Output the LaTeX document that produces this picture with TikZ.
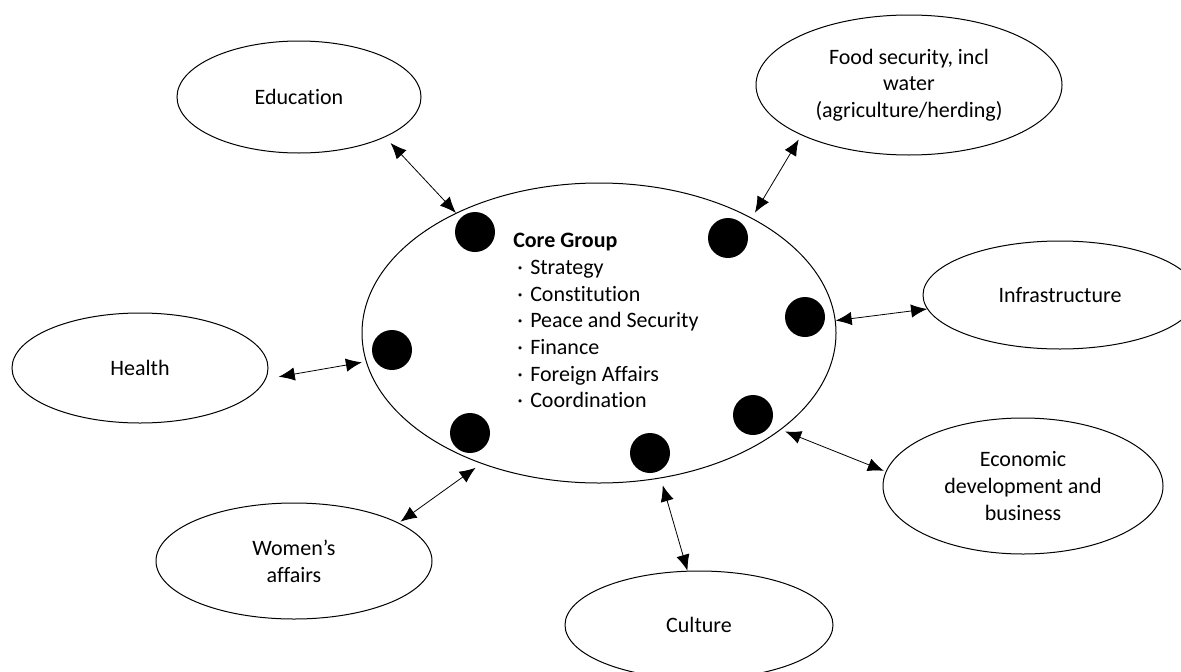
\documentclass[tikz,border=0pt]{standalone}
\usepackage{fontspec}
\setmainfont{Carlito}[Ligatures=NoCommon]
\usetikzlibrary{arrows.meta,shapes.geometric}
\newcommand{\bul}{\hspace*{3pt}\makebox[9.75pt][l]{·}}

\tikzset{
  topic/.style={draw, ellipse, line width=0.75pt, inner sep=0pt, align=center,
    font=\fontsize{16.5}{20}\selectfont},
  blob/.style={circle, fill=black, inner sep=0pt, minimum size=30pt},
  link/.style={{Latex[length=12pt,width=10pt]}-{Latex[length=12pt,width=10pt]}, line width=0.6pt},
}

\begin{document}
\begin{tikzpicture}[x=0.75pt,y=-0.75pt]
\useasboundingbox (0,0) rectangle (1181,671);

%core group
\node[topic, minimum width=355.5pt, minimum height=225pt] (core) at (599,333) {};
\node[anchor=north west, align=left, inner sep=0pt, font=\fontsize{16.5}{20}\selectfont] (list) at (513,233)
  {\textbf{Core Group}\\\bul Strategy\\\bul Constitution\\\bul Peace and Security\\\bul Finance\\\bul Foreign Affairs\\\bul Coordination};

%members
\node[blob] (m1) at (475,232) {};
\node[blob] (m2) at (728,238) {};
\node[blob] (m3) at (805,317) {};
\node[blob] (m4) at (392,350) {};
\node[blob] (m5) at (470,433) {};
\node[blob] (m6) at (650,453) {};
\node[blob] (m7) at (753,415) {};

%outer topics
\node[topic, minimum width=183pt, minimum height=84pt] (edu) at (299,97) {Education};
\node[topic, minimum width=229.5pt, minimum height=105pt] (food) at (909,85) {Food security, incl\\water\\(agriculture/herding)};
\node[topic, minimum width=205.5pt, minimum height=81pt] (infra) at (1060,295) {Infrastructure};
\node[topic, minimum width=192pt, minimum height=82.5pt] (health) at (140,368) {Health};
\node[topic, minimum width=207pt, minimum height=87pt] (women) at (294,561) {Women’s\\affairs};
\node[topic, minimum width=201pt, minimum height=81pt] (culture) at (699,625) {Culture};
\node[topic, minimum width=210pt, minimum height=102pt] (econ) at (1023,486) {Economic\\development and\\business};

%links
\draw[link, shorten <=6pt] (edu.-25) -- (core.140);
\draw[link, shorten <=3.75pt, shorten >=4.5pt] (food.-155.4) -- (core.37.1);
\draw[link] (infra.-174) -- (core.3.4);
\draw[link, shorten <=9.75pt, shorten >=3pt] (health.-5.2) -- (core.-173.1);
\draw[link, shorten <=1.5pt, shorten >=5.25pt] (women.20.2) -- (core.-132.1);
\draw[link, shorten >=5.5pt] (culture.102.5) -- (core.-67.2);
\draw[link, shorten <=1.5pt, shorten >=3.4pt] (econ.174.7) -- (core.-28.8);
\end{tikzpicture}
\end{document}
